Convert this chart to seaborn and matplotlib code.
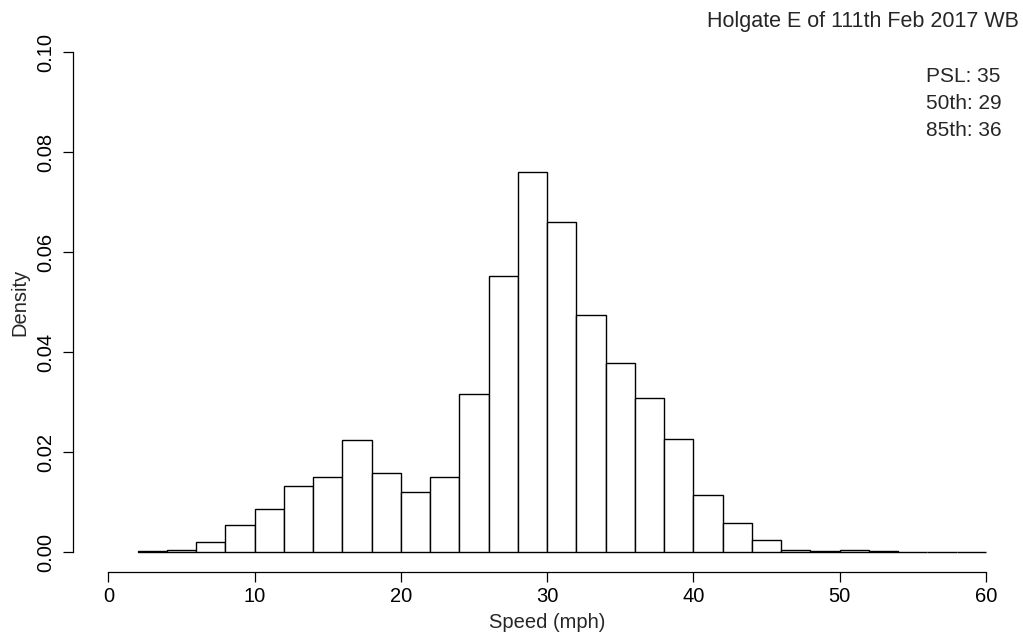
import numpy as np
import pandas as pd
import matplotlib
matplotlib.use("Agg")
import matplotlib.pyplot as plt
import seaborn as sns

# ---- data ----
bin_edges = list(range(2, 62, 2))  # 2, 4, ..., 60
density = [0.0002, 0.0005, 0.0021, 0.0054, 0.0087, 0.0133, 0.0151, 0.0224,
           0.0159, 0.0120, 0.0151, 0.0317, 0.0553, 0.0761, 0.0661, 0.0473,
           0.0379, 0.0309, 0.0227, 0.0114, 0.0058, 0.0023, 0.0005, 0.0002,
           0.0005, 0.0002, 0.0, 0.0, 0.0]
x_ticks = [0, 10, 20, 30, 40, 50, 60]
y_ticks = [0.00, 0.02, 0.04, 0.06, 0.08, 0.10]
y_tick_labels = ["0.00", "0.02", "0.04", "0.06", "0.08", "0.10"]
title = "Holgate E of 111th Feb 2017 WB"
stats_lines = ["PSL: 35", "50th: 29", "85th: 36"]
x_label = "Speed (mph)"
y_label = "Density"

centers = [(a + b) / 2 for a, b in zip(bin_edges[:-1], bin_edges[1:])]
df = pd.DataFrame({"speed": centers, "density": density})

sns.set_style("ticks")
plt.rcParams["font.family"] = ["Liberation Sans", "DejaVu Sans"]

W, H = 1023, 638
fig = plt.figure(figsize=(W / 100, H / 100), dpi=100)
left_px, right_px, top_px, bottom_px = 73.3, 1021.1, 32.0, 572.0
ax = fig.add_axes([left_px / W, 1 - bottom_px / H,
                   (right_px - left_px) / W, (bottom_px - top_px) / H])

sns.histplot(data=df, x="speed", weights="density", bins=bin_edges,
             stat="count", ax=ax, color="white", edgecolor="black",
             linewidth=1.0, alpha=1.0)

ax.set_xlim(-2.4, 62.4)
ax.set_ylim(-0.004, 0.104)
ax.set_xticks(x_ticks)
ax.set_xticklabels([str(t) for t in x_ticks])
ax.set_yticks(y_ticks)
ax.set_yticklabels(y_tick_labels, rotation=90, va="center")

for s in ["top", "right"]:
    ax.spines[s].set_visible(False)
ax.spines["left"].set_bounds(0, 0.10)
ax.spines["bottom"].set_bounds(0, 60)
for s in ["left", "bottom"]:
    ax.spines[s].set_linewidth(0.9)
    ax.spines[s].set_color("black")

ax.tick_params(axis="both", length=7, width=0.9, color="black",
               labelsize=14.5, labelcolor="black")
ax.tick_params(axis="x", pad=4)
ax.tick_params(axis="y", pad=6)
ax.grid(False)

ax.set_xlabel("")
ax.set_ylabel("")
fig.text(547 / W, 1 - 622 / H, x_label, ha="center", va="center", fontsize=14.5)
fig.text(20 / W, 1 - 302 / H, y_label, ha="center", va="center",
         rotation=90, fontsize=14.5)

fig.text(1019 / W, 1 - 21 / H, title, ha="right", va="center", fontsize=15.5)
for i, line in enumerate(stats_lines):
    fig.text(926 / W, 1 - (77 + 26.5 * i) / H, line, ha="left", va="center",
             fontsize=15)

fig.savefig("out.png", dpi=100, facecolor="white")
